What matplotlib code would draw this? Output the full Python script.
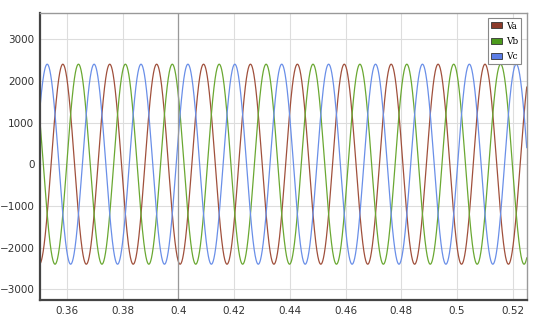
import numpy as np
import matplotlib.pyplot as plt

# waveform parameters
names = ['Va', 'Vb', 'Vc']
amplitude = 2400
freq_hz = 59.4
peak_time_va = 0.3585
phase_deg = [0, -120, 120]
line_colors = ['#a0503c', '#6aa832', '#6a8fe8']
legend_colors = ['#8b3a2a', '#4c9a1c', '#5b7de6']

x_ticks = [0.36, 0.38, 0.40, 0.42, 0.44, 0.46, 0.48, 0.50, 0.52]
x_labels = ['0.36', '0.38', '0.4', '0.42', '0.44', '0.46', '0.48', '0.5', '0.52']
y_ticks = [-3000, -2000, -1000, 0, 1000, 2000, 3000]

t = np.linspace(0.3503, 0.525, 4000)

fig = plt.figure(figsize=(5.5, 3.24), dpi=100)
ax = fig.add_axes([0.0727, 0.074, 0.885, 0.886])

for name, ph, c in zip(names, phase_deg, line_colors):
    v = amplitude * np.cos(2 * np.pi * freq_hz * (t - peak_time_va) + np.radians(ph))
    ax.plot(t, v, color=c, lw=0.9, label=name)

ax.set_xlim(0.3503, 0.525)
ax.set_ylim(-3260, 3630)
ax.set_xticks(x_ticks)
ax.set_xticklabels(x_labels)
ax.set_yticks(y_ticks)
ax.tick_params(length=0, labelsize=7.5, labelcolor='#333333', pad=4)
ax.grid(color='#dddddd', lw=0.8)
ax.axvline(0.4, color='#999999', lw=0.9)
ax.set_axisbelow(True)

for s in ['left', 'bottom']:
    ax.spines[s].set_color('#444444')
    ax.spines[s].set_linewidth(1.6)
for s in ['top', 'right']:
    ax.spines[s].set_color('#999999')
    ax.spines[s].set_linewidth(1.0)

handles = [plt.Rectangle((0, 0), 1, 1, facecolor=c, edgecolor='#333333', lw=0.6)
           for c in legend_colors]
leg = ax.legend(handles, names, loc='upper right',
                prop={'family': 'DejaVu Serif', 'size': 6.5},
                handlelength=1.2, handleheight=0.6, handletextpad=0.4,
                labelspacing=0.7, borderpad=0.35, borderaxespad=0.6,
                fancybox=False, framealpha=1, edgecolor='#888888')
leg.get_frame().set_linewidth(0.8)

fig.savefig('out.png', dpi=100)
